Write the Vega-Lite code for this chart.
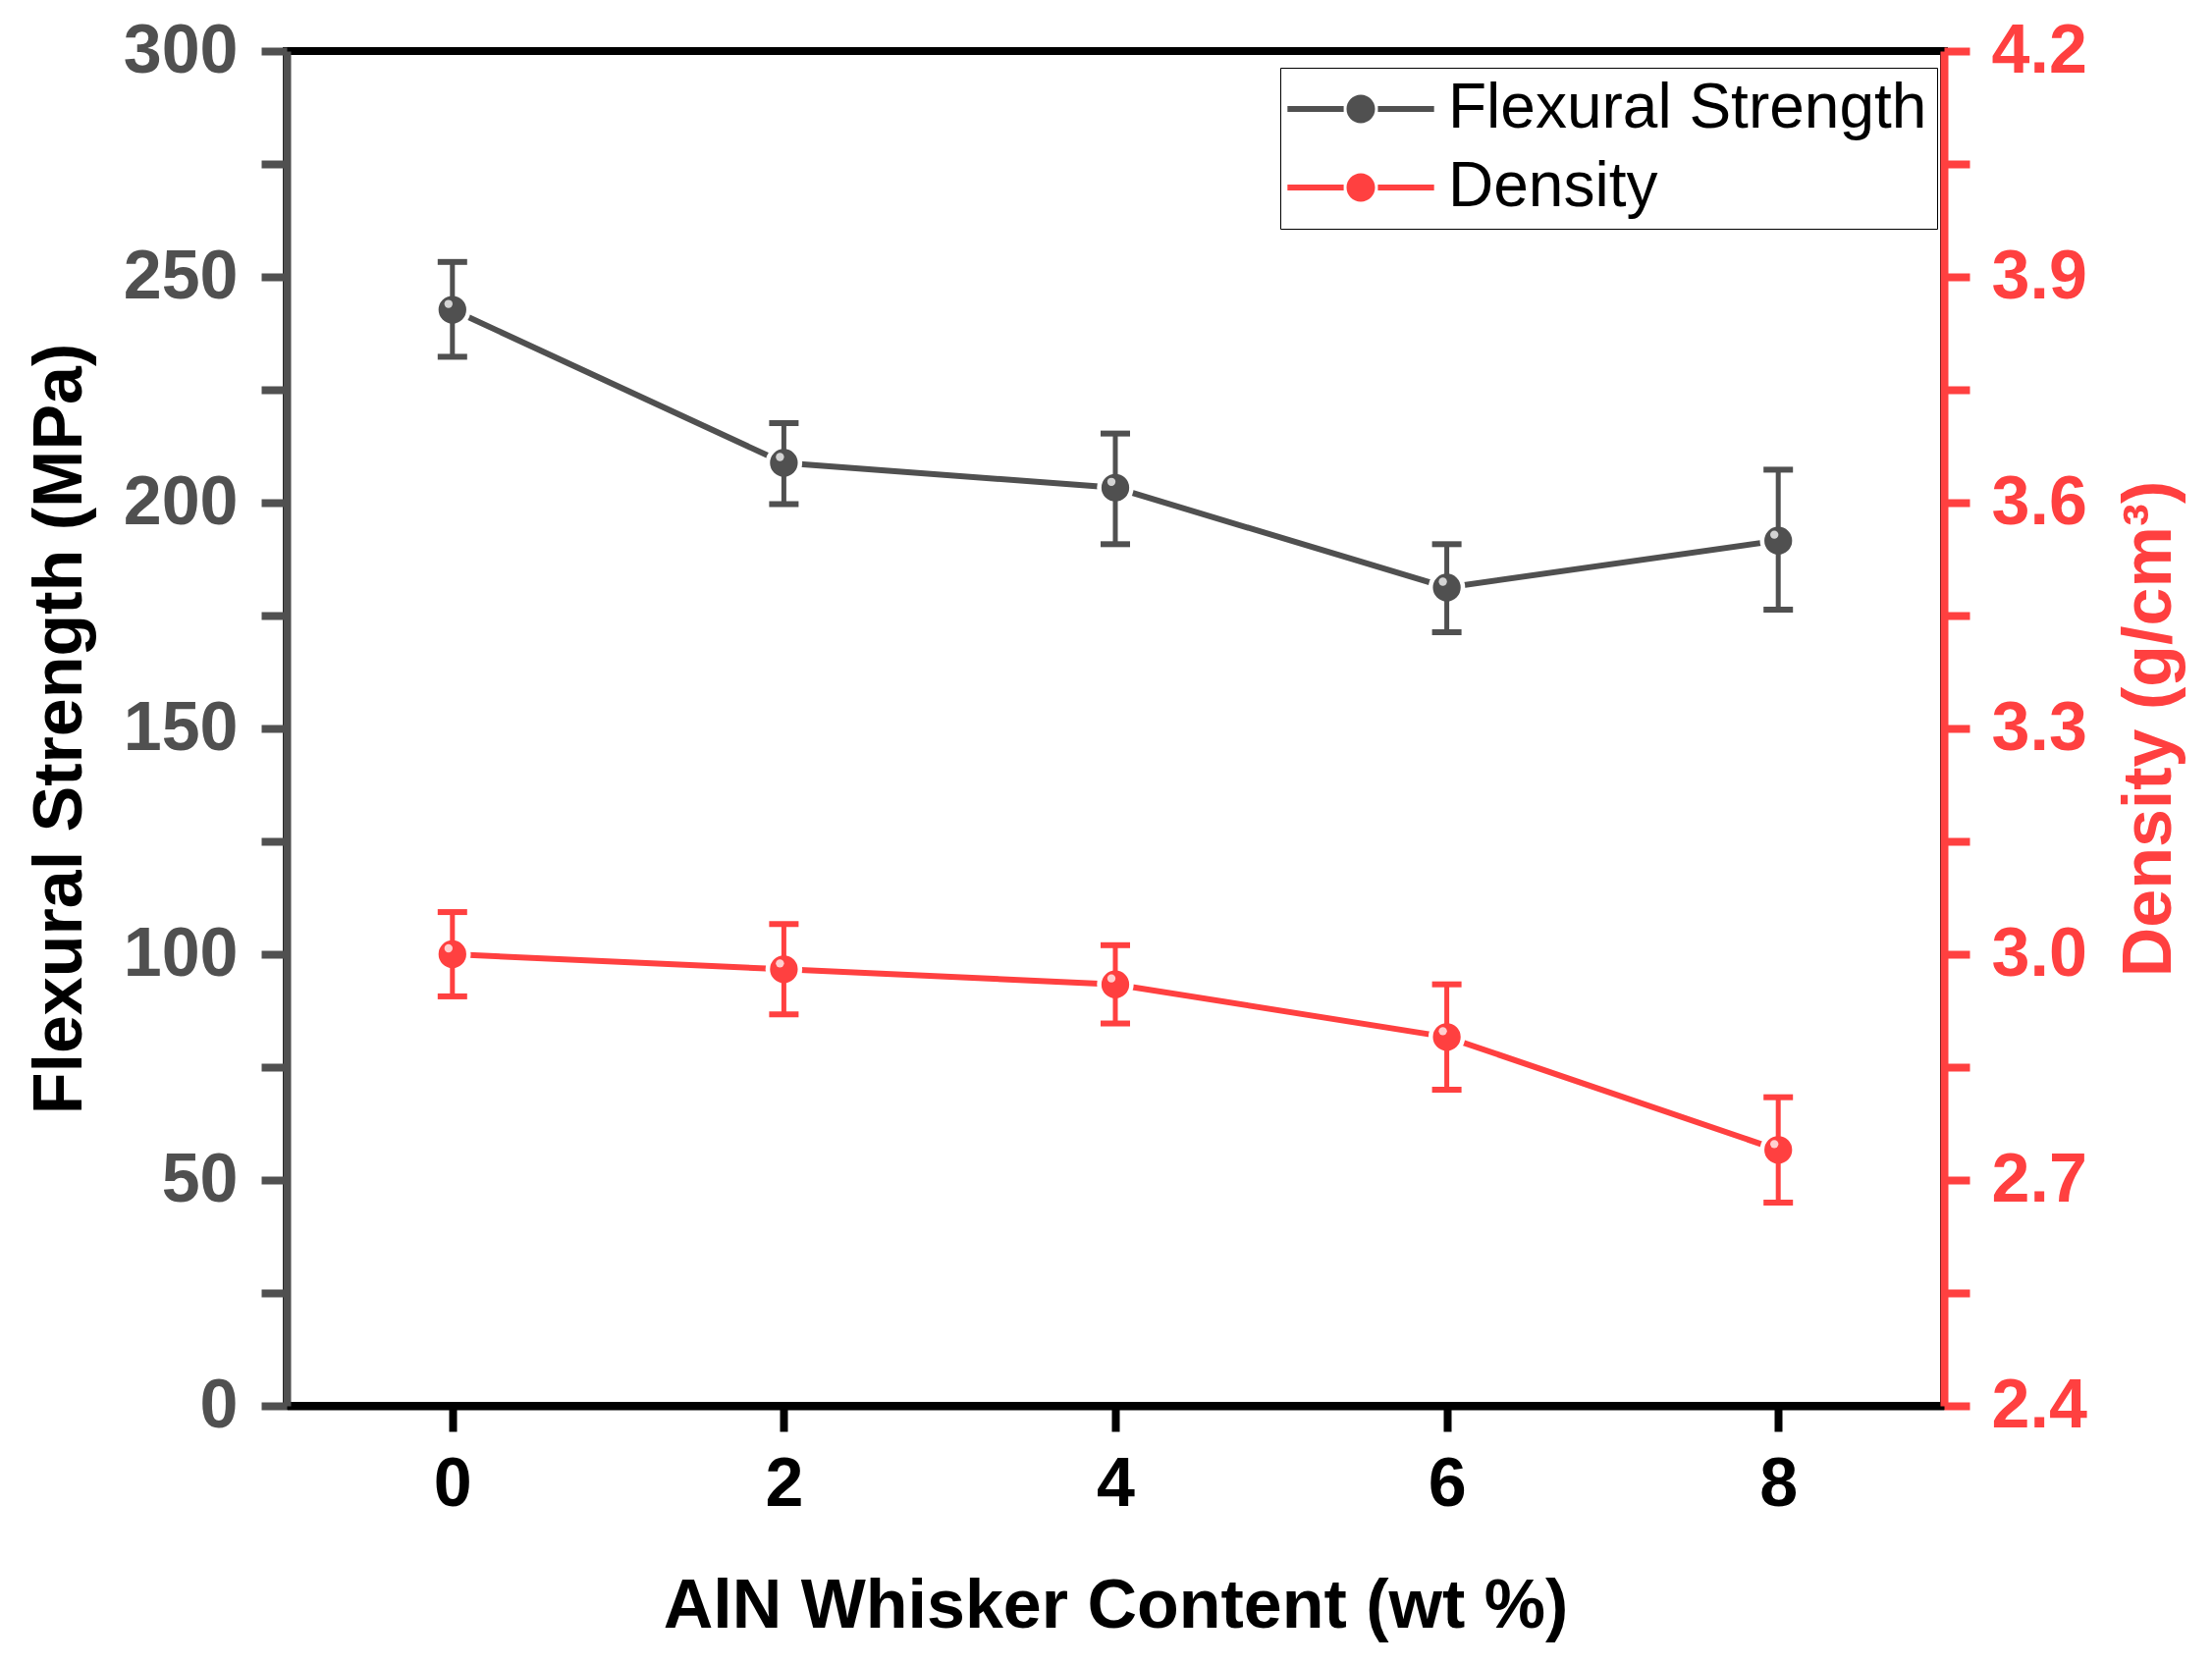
{
  "$schema": "https://vega.github.io/schema/vega-lite/v6.json",
  "width": 1688,
  "height": 1380,
  "autosize": {"type": "none"},
  "padding": {"left": 292, "top": 52, "right": 273, "bottom": 264},
  "background": "white",
  "config": {
    "view": {"stroke": "black", "strokeWidth": 8},
    "axis": {"grid": false, "labelOverlap": false, "labelFlush": false}
  },
  "datasets": {
    "flex": [
      {"x": 0, "series": "Flexural Strength", "v": 242.7, "lo": 232.3, "hi": 253.3},
      {"x": 2, "series": "Flexural Strength", "v": 208.8, "lo": 199.7, "hi": 217.6},
      {"x": 4, "series": "Flexural Strength", "v": 203.3, "lo": 190.8, "hi": 215.3},
      {"x": 6, "series": "Flexural Strength", "v": 181.2, "lo": 171.3, "hi": 190.8},
      {"x": 8, "series": "Flexural Strength", "v": 191.6, "lo": 176.3, "hi": 207.3}
    ],
    "dens": [
      {"x": 0, "series": "Density", "v": 3.0, "lo": 2.944, "hi": 3.056},
      {"x": 2, "series": "Density", "v": 2.98, "lo": 2.92, "hi": 3.04},
      {"x": 4, "series": "Density", "v": 2.96, "lo": 2.908, "hi": 3.012},
      {"x": 6, "series": "Density", "v": 2.89, "lo": 2.82, "hi": 2.96},
      {"x": 8, "series": "Density", "v": 2.74, "lo": 2.67, "hi": 2.81}
    ]
  },
  "layer": [
    {
      "data": {"name": "flex"},
      "layer": [
        {
          "mark": {"type": "line", "color": "#505050", "strokeWidth": 6},
          "encoding": {
            "x": {
              "field": "x", "type": "quantitative",
              "scale": {"domain": [-1, 9], "nice": false, "zero": false},
              "axis": {
                "values": [0, 2, 4, 6, 8],
                "format": "d",
                "title": "AlN Whisker Content (wt %)",
                "domainColor": "black", "domainWidth": 8,
                "tickColor": "black", "tickWidth": 8, "tickSize": 26,
                "labelColor": "black", "labelFont": "Liberation Sans", "labelFontWeight": "bold", "labelFontSize": 70,
                "labelPadding": 20,
                "titleColor": "black", "titleFont": "Liberation Sans", "titleFontWeight": "bold", "titleFontSize": 70,
                "titlePadding": 55
              }
            },
            "y": {
              "field": "v", "type": "quantitative",
              "scale": {"domain": [0, 300], "nice": false, "zero": false},
              "axis": {
                "values": [0, 25, 50, 75, 100, 125, 150, 175, 200, 225, 250, 275, 300],
                "labelExpr": "datum.value % 50 === 0 ? datum.label : ''",
                "tickSize": 26,
                "encode": {"ticks": {"update": {"x2": {"signal": "datum.value % 50 === 0 ? -26 : -13"}}}},
                "title": "Flexural Strength (MPa)",
                "domainColor": "#505050", "domainWidth": 8,
                "tickColor": "#505050", "tickWidth": 8,
                "labelColor": "#505050", "labelFont": "Liberation Sans", "labelFontWeight": "bold", "labelFontSize": 70,
                "labelPadding": 24,
                "titleColor": "black", "titleFont": "Liberation Sans", "titleFontWeight": "bold", "titleFontSize": 70,
                "titlePadding": 28
              }
            }
          }
        },
        {
          "mark": {"type": "point", "shape": "circle", "filled": true, "color": "white", "size": 1400, "opacity": 1},
          "encoding": {
            "x": {"field": "x", "type": "quantitative"},
            "y": {"field": "v", "type": "quantitative"}
          }
        },
        {
          "mark": {"type": "rule", "color": "#505050", "strokeWidth": 5},
          "encoding": {
            "x": {"field": "x", "type": "quantitative"},
            "y": {"field": "lo", "type": "quantitative"},
            "y2": {"field": "hi"}
          }
        },
        {
          "mark": {"type": "tick", "orient": "horizontal", "color": "#505050", "thickness": 6, "size": 30, "opacity": 1},
          "encoding": {
            "x": {"field": "x", "type": "quantitative"},
            "y": {"field": "lo", "type": "quantitative"}
          }
        },
        {
          "mark": {"type": "tick", "orient": "horizontal", "color": "#505050", "thickness": 6, "size": 30, "opacity": 1},
          "encoding": {
            "x": {"field": "x", "type": "quantitative"},
            "y": {"field": "hi", "type": "quantitative"}
          }
        },
        {
          "mark": {"type": "point", "shape": "circle", "filled": true, "size": 800, "opacity": 1},
          "encoding": {
            "x": {"field": "x", "type": "quantitative"},
            "y": {"field": "v", "type": "quantitative"},
            "color": {
              "field": "series", "type": "nominal",
              "scale": {"domain": ["Flexural Strength", "Density"], "range": ["#505050", "#ff4040"]},
              "legend": {
                "orient": "none", "legendX": 1012, "legendY": 17, "title": null,
                "symbolType": "M-5.15,-0.2H-1.2V0.2H-5.15Z M1.2,-0.2H5.15V0.2H1.2Z M-1,0A1,1 0 1,1 1,0A1,1 0 1,1 -1,0Z",
                "symbolSize": 841, "symbolOffset": 40, "symbolStrokeWidth": 0,
                "labelOffset": 57, "labelFont": "Liberation Sans", "labelFontSize": 64, "labelColor": "black", "labelLimit": 1000,
                "rowPadding": 16, "padding": 10,
                "strokeColor": "black", "fillColor": "white",
                "encode": {"legend": {"update": {"strokeWidth": {"value": 2}}}}
              }
            }
          }
        },
        {
          "mark": {"type": "point", "shape": "circle", "filled": true, "color": "white", "size": 70, "opacity": 0.75, "xOffset": -4, "yOffset": -6},
          "encoding": {
            "x": {"field": "x", "type": "quantitative"},
            "y": {"field": "v", "type": "quantitative"}
          }
        }
      ]
    },
    {
      "data": {"name": "dens"},
      "layer": [
        {
          "mark": {"type": "line", "color": "#ff4040", "strokeWidth": 6},
          "encoding": {
            "x": {"field": "x", "type": "quantitative"},
            "y": {
              "field": "v", "type": "quantitative",
              "scale": {"domain": [2.4, 4.2], "nice": false, "zero": false},
              "axis": {
                "orient": "right",
                "values": [2.4, 2.55, 2.7, 2.85, 3.0, 3.15, 3.3, 3.45, 3.6, 3.75, 3.9, 4.05, 4.2],
                "labelExpr": "round(datum.value * 100) % 30 === 0 ? format(datum.value, '.1f') : ''",
                "tickSize": 26,
                "encode": {"ticks": {"update": {"x2": {"signal": "round(datum.value * 100) % 30 === 0 ? 26 : 13"}}}},
                "title": "Density (g/cm³)",
                "titleAngle": 270,
                "titleBaseline": "top",
                "domainColor": "#ff4040", "domainWidth": 8,
                "tickColor": "#ff4040", "tickWidth": 8,
                "labelColor": "#ff4040", "labelFont": "Liberation Sans", "labelFontWeight": "bold", "labelFontSize": 70,
                "labelPadding": 22,
                "titleColor": "#ff4040", "titleFont": "Liberation Sans", "titleFontWeight": "bold", "titleFontSize": 70,
                "titlePadding": 30
              }
            }
          }
        },
        {
          "mark": {"type": "point", "shape": "circle", "filled": true, "color": "white", "size": 1400, "opacity": 1},
          "encoding": {
            "x": {"field": "x", "type": "quantitative"},
            "y": {"field": "v", "type": "quantitative"}
          }
        },
        {
          "mark": {"type": "rule", "color": "#ff4040", "strokeWidth": 5},
          "encoding": {
            "x": {"field": "x", "type": "quantitative"},
            "y": {"field": "lo", "type": "quantitative"},
            "y2": {"field": "hi"}
          }
        },
        {
          "mark": {"type": "tick", "orient": "horizontal", "color": "#ff4040", "thickness": 6, "size": 30, "opacity": 1},
          "encoding": {
            "x": {"field": "x", "type": "quantitative"},
            "y": {"field": "lo", "type": "quantitative"}
          }
        },
        {
          "mark": {"type": "tick", "orient": "horizontal", "color": "#ff4040", "thickness": 6, "size": 30, "opacity": 1},
          "encoding": {
            "x": {"field": "x", "type": "quantitative"},
            "y": {"field": "hi", "type": "quantitative"}
          }
        },
        {
          "mark": {"type": "point", "shape": "circle", "filled": true, "size": 800, "opacity": 1},
          "encoding": {
            "x": {"field": "x", "type": "quantitative"},
            "y": {"field": "v", "type": "quantitative"},
            "color": {
              "field": "series", "type": "nominal",
              "scale": {"domain": ["Flexural Strength", "Density"], "range": ["#505050", "#ff4040"]},
              "legend": {
                "orient": "none", "legendX": 1012, "legendY": 17, "title": null,
                "symbolType": "M-5.15,-0.2H-1.2V0.2H-5.15Z M1.2,-0.2H5.15V0.2H1.2Z M-1,0A1,1 0 1,1 1,0A1,1 0 1,1 -1,0Z",
                "symbolSize": 841, "symbolOffset": 40, "symbolStrokeWidth": 0,
                "labelOffset": 57, "labelFont": "Liberation Sans", "labelFontSize": 64, "labelColor": "black", "labelLimit": 1000,
                "rowPadding": 16, "padding": 10,
                "strokeColor": "black", "fillColor": "white",
                "encode": {"legend": {"update": {"strokeWidth": {"value": 2}}}}
              }
            }
          }
        },
        {
          "mark": {"type": "point", "shape": "circle", "filled": true, "color": "white", "size": 70, "opacity": 0.75, "xOffset": -4, "yOffset": -6},
          "encoding": {
            "x": {"field": "x", "type": "quantitative"},
            "y": {"field": "v", "type": "quantitative"}
          }
        }
      ]
    }
  ],
  "resolve": {"scale": {"y": "independent"}}
}
